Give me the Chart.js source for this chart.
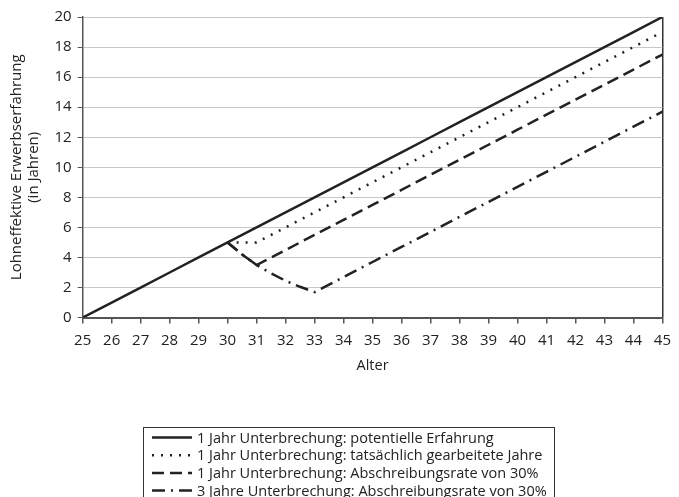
<!DOCTYPE html>
<html>
<head>
<meta charset="utf-8">
<script src="https://cdn.jsdelivr.net/npm/chart.js@4"></script>
<style>
  html, body { margin: 0; padding: 0; background: #fff; }
  #wrap { width: 679px; height: 497px; position: relative; }
</style>
</head>
<body>
<div id="wrap"><canvas id="chart"></canvas></div>
<script>
// Data
const labels = [
  '1 Jahr Unterbrechung: potentielle Erfahrung',
  '1 Jahr Unterbrechung: tatsächlich gearbeitete Jahre',
  '1 Jahr Unterbrechung: Abschreibungsrate von 30%',
  '3 Jahre Unterbrechung: Abschreibungsrate von 30%'
];

const alterPotentiell = [25, 26, 27, 28, 29, 30, 31, 32, 33, 34, 35, 36, 37, 38, 39, 40, 41, 42, 43, 44, 45];
const potentiell = [0, 1, 2, 3, 4, 5, 6, 7, 8, 9, 10, 11, 12, 13, 14, 15, 16, 17, 18, 19, 20];

const alterTatsaechlich = [30, 31, 32, 33, 34, 35, 36, 37, 38, 39, 40, 41, 42, 43, 44, 45];
const tatsaechlich = [5, 5, 6, 7, 8, 9, 10, 11, 12, 13, 14, 15, 16, 17, 18, 19];

const alterAbschr1 = [30, 30.5, 31, 32, 33, 34, 35, 36, 37, 38, 39, 40, 41, 42, 43, 44, 45];
const abschr1 = [5, 4.2, 3.5, 4.5, 5.5, 6.5, 7.5, 8.5, 9.5, 10.5, 11.5, 12.5, 13.5, 14.5, 15.5, 16.5, 17.5];

const alterAbschr3 = [30, 30.5, 31, 31.5, 32, 32.5, 33, 34, 35, 36, 37, 38, 39, 40, 41, 42, 43, 44, 45];
const abschr3 = [5, 4.2, 3.5, 2.95, 2.45, 2.05, 1.7, 2.7, 3.7, 4.7, 5.7, 6.7, 7.7, 8.7, 9.7, 10.7, 11.7, 12.7, 13.7];

const dashes = [[], [2, 7], [12, 6], [13, 6, 2, 6]];

function points(xs, ys) {
  return xs.map((x, i) => ({ x: x, y: ys[i] }));
}

const FONT = '"Open Sans", "Noto Sans", sans-serif';
const INK = '#222';

// legend drawn in a framed box below the chart
const boxLegend = {
  id: 'boxLegend',
  afterDraw(chart) {
    const ctx = chart.ctx;
    const left = 143, right = 554, top = 427;
    ctx.save();
    ctx.strokeStyle = '#333';
    ctx.lineWidth = 1;
    ctx.strokeRect(left + 0.5, top + 0.5, right - left, 120);
    ctx.font = '14.5px ' + FONT;
    ctx.fillStyle = INK;
    ctx.textBaseline = 'middle';
    chart.data.datasets.forEach((ds, i) => {
      const y = top + 10.5 + i * 17.7;
      ctx.beginPath();
      ctx.setLineDash(ds.borderDash || []);
      ctx.lineWidth = 2.5;
      ctx.strokeStyle = ds.borderColor;
      ctx.moveTo(152, y);
      ctx.lineTo(192, y);
      ctx.stroke();
      ctx.setLineDash([]);
      ctx.fillText(ds.label, 197, y + 1);
    });
    ctx.restore();
  }
};

const series = [
  points(alterPotentiell, potentiell),
  points(alterTatsaechlich, tatsaechlich),
  points(alterAbschr1, abschr1),
  points(alterAbschr3, abschr3)
];

new Chart(document.getElementById('chart'), {
  type: 'line',
  data: {
    datasets: series.map((d, i) => ({
      label: labels[i],
      data: d,
      borderColor: INK,
      borderWidth: 2.5,
      borderDash: dashes[i],
      pointRadius: 0,
      tension: 0,
      fill: false
    }))
  },
  options: {
    responsive: true,
    maintainAspectRatio: false,
    animation: false,
    layout: { padding: { left: 4, right: 10, top: 17, bottom: 118 } },
    plugins: {
      legend: { display: false },
      tooltip: { enabled: false }
    },
    scales: {
      x: {
        type: 'linear',
        min: 25,
        max: 45,
        ticks: { stepSize: 1, color: INK, font: { family: FONT, size: 15 }, padding: 8 },
        grid: {
          color: c => (c.tick && c.tick.value === 45 ? '#333' : 'transparent'),
          tickColor: '#555',
          tickLength: 6,
          lineWidth: 1.5
        },
        border: { color: '#555', width: 2 },
        title: { display: true, text: 'Alter', color: INK, font: { family: FONT, size: 14.5 }, padding: { top: 0 } }
      },
      y: {
        min: 0,
        max: 20,
        ticks: { stepSize: 2, color: INK, font: { family: FONT, size: 15 }, padding: 6 },
        grid: { color: '#c8c8c8', tickColor: '#555', tickLength: 5, lineWidth: 1 },
        border: { color: '#555', width: 1.5 },
        title: {
          display: true,
          text: ['Lohneffektive Erwerbserfahrung', '(in Jahren)'],
          color: INK,
          font: { family: FONT, size: 15, lineHeight: 1.15 },
          padding: { bottom: 6 }
        }
      }
    }
  },
  plugins: [boxLegend]
});
</script>
</body>
</html>
